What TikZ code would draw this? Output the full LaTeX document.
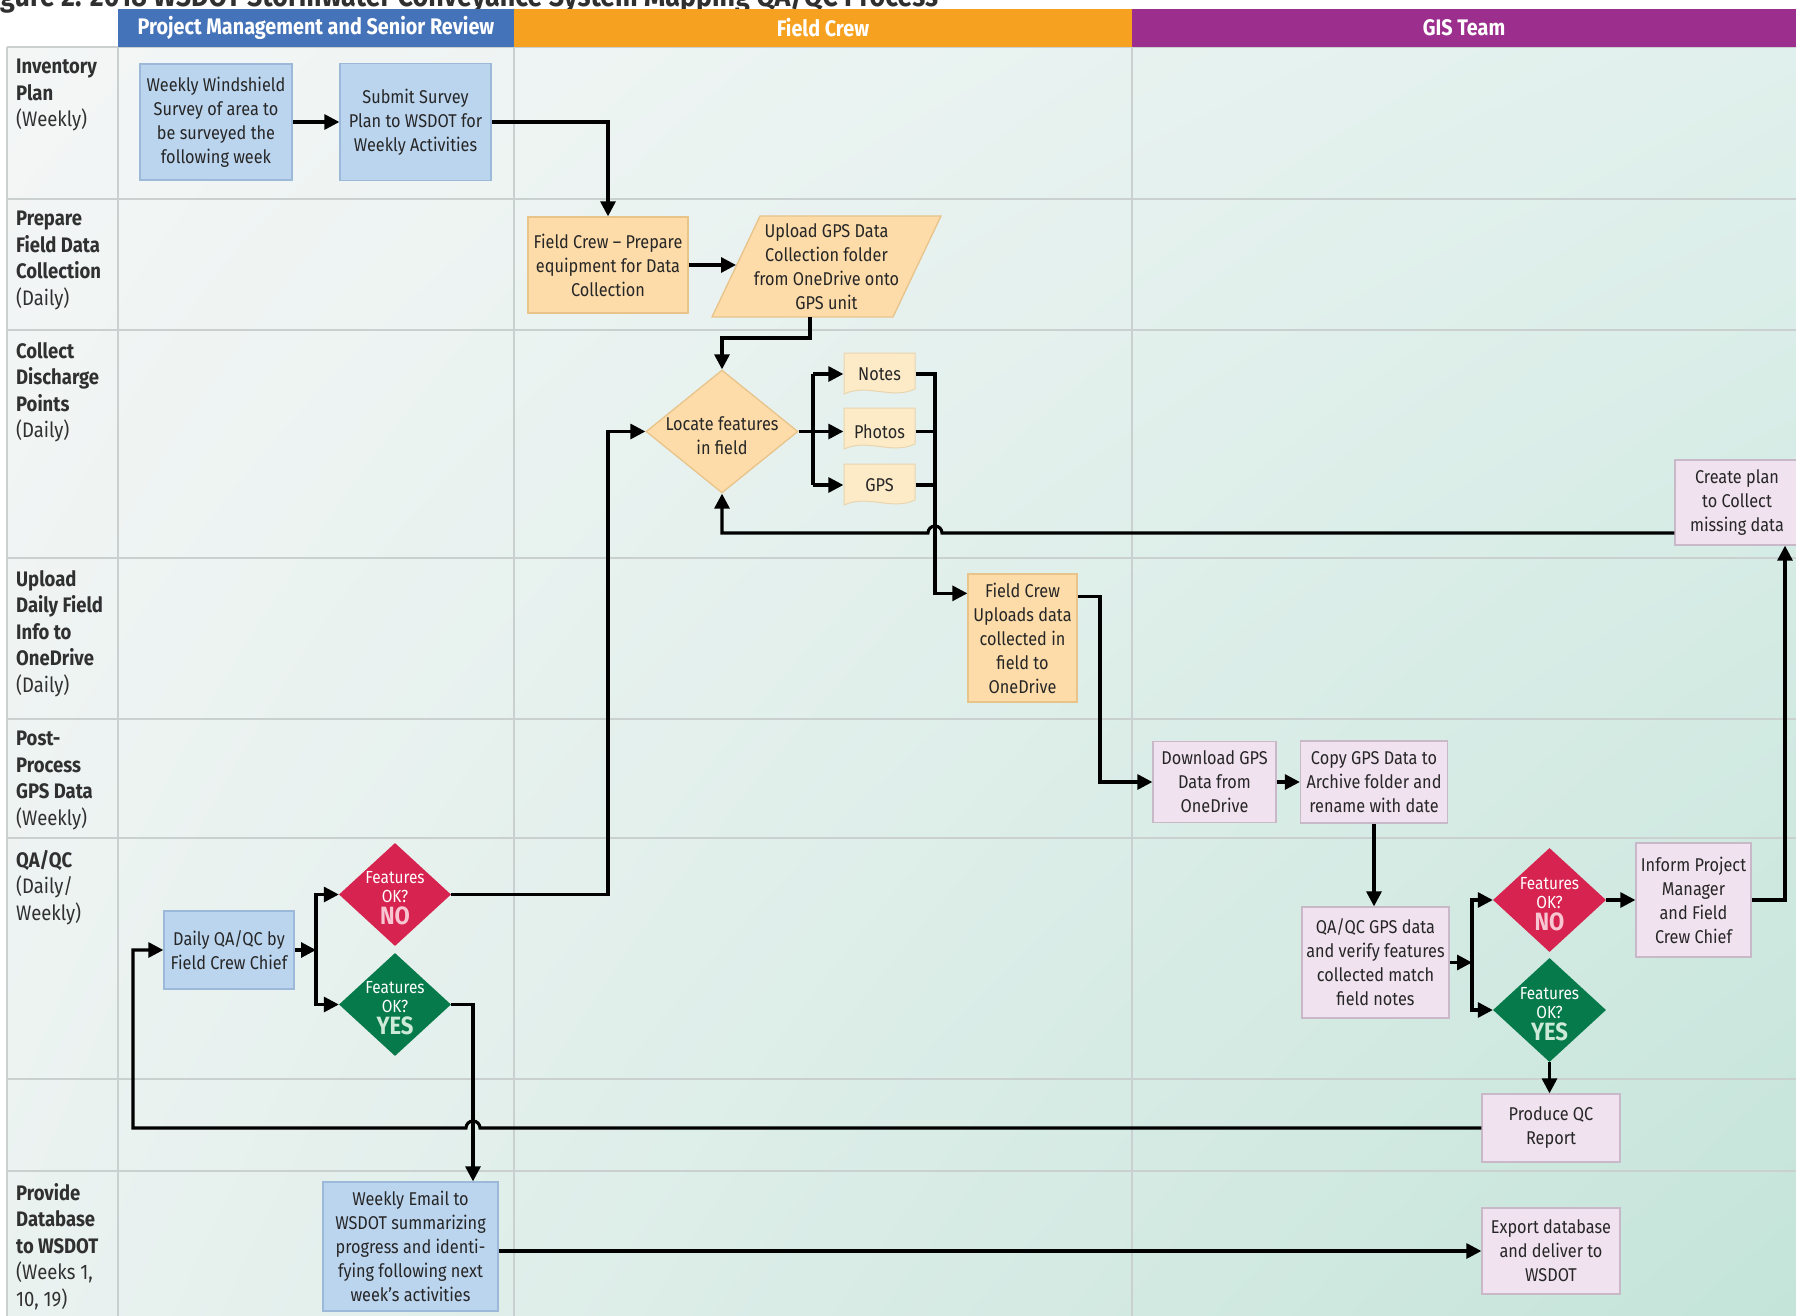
\documentclass[tikz,border=0pt]{standalone}
\usepackage{fontspec}
\setmainfont{Fira Sans}[FakeStretch=0.88]
\usetikzlibrary{arrows.meta,shapes.geometric,calc,shadings}
\definecolor{pmhead}{HTML}{4573B9}
\definecolor{fchead}{HTML}{F6A11F}
\definecolor{gishead}{HTML}{9C2F8E}
\definecolor{pmfill}{HTML}{BCD5EF}
\definecolor{pmline}{HTML}{9DB9D9}
\definecolor{fcfill}{HTML}{FDDCAA}
\definecolor{fcline}{HTML}{E8C38A}
\definecolor{docfill}{HTML}{FDEBC8}
\definecolor{docline}{HTML}{E9D4AE}
\definecolor{gisfill}{HTML}{F1E2F0}
\definecolor{gisline}{HTML}{C9B9C8}
\definecolor{redc}{HTML}{D6234F}
\definecolor{greenc}{HTML}{077A4C}
\definecolor{nocol}{HTML}{F7C6D2}
\definecolor{yescol}{HTML}{CDEAD8}
\definecolor{txtc}{HTML}{262626}
\definecolor{lblc}{HTML}{303030}
\definecolor{gridc}{HTML}{CACFCF}
\definecolor{bgA}{HTML}{F4F6F6}
\definecolor{bgB}{HTML}{E0F0EC}
\definecolor{bgC}{HTML}{EAF2F0}
\definecolor{bgD}{HTML}{C4E4D9}
\newcommand\bxf{\fontsize{18.5}{24}\selectfont}
\newcommand\lbf{\fontsize{21}{26.5}\selectfont}
\newcommand\hdf{\fontsize{22.5}{26}\selectfont}
\newcommand\dfnt{\fontsize{17.5}{19}\selectfont}
\newcommand\nolbl{{\bfseries\fontsize{25}{19}\selectfont\color{nocol}NO}}
\newcommand\yeslbl{{\bfseries\fontsize{25}{19}\selectfont\color{yescol}YES}}
\newcommand\docsh[2]{\filldraw[fill=docfill, draw=docline, line width=1pt] ({#1-35.5},{#2-21}) -- ({#1+35.5},{#2-21}) -- ({#1+35.5},{#2+15}) .. controls ({#1+12},{#2+26}) and ({#1-12},{#2+9}) .. ({#1-35.5},{#2+20}) -- cycle;}
\begin{document}
\begin{tikzpicture}[x=1pt,y=-1pt,
  bx/.style={rectangle, line width=1.3pt, inner sep=1pt, align=center, font=\bxf, text=txtc},
  pm/.style={bx, draw=pmline, fill=pmfill},
  fc/.style={bx, draw=fcline, fill=fcfill},
  gis/.style={bx, draw=gisline, fill=gisfill},
  dia/.style={diamond, inner sep=0pt, draw=none},
  dtxt/.style={align=center, text=white, font=\dfnt, inner sep=0pt},
  lbl/.style={anchor=north west, align=left, font=\lbf, text=lblc, inner sep=0pt},
  hdr/.style={inner sep=0pt, text=white, font=\hdf\bfseries},
  ln/.style={line width=3.1pt, draw=black},
  arr/.style={ln, -{Triangle[length=15pt,width=15pt]}},
  gridl/.style={draw=gridc, line width=2pt}]
\useasboundingbox (0,0) rectangle (1796,1316);
\fill[white] (0,0) rectangle (1796,1316);
\shade[upper left=bgA, upper right=bgB, lower left=bgC, lower right=bgD] (7,47) rectangle (1796,1316);
\foreach \yy in {47,199,330,558,719,838,1079,1171} \draw[gridl] (7,\yy) -- (1796,\yy);
\foreach \xx in {7,118,514,1132} \draw[gridl] (\xx,47) -- (\xx,1316);
% title (cut off at top, as in the source)
\node[anchor=base west, inner sep=0pt, text=lblc, font=\fontsize{30.5}{34}\selectfont\bfseries] (title) at (0,7) {\llap{Fi}gure 2. 2018 WSDOT Stormwater Conveyance System Mapping QA/QC Process};
% headers
\node[hdr, fill=pmhead, minimum width=396, minimum height=38] (hPM) at (316,28) {Project Management and Senior Review};
\node[hdr, fill=fchead, minimum width=618, minimum height=38] (hFC) at (823,28) {Field Crew};
\node[hdr, fill=gishead, minimum width=664, minimum height=38] (hGIS) at (1464,28) {GIS Team};
% row labels
\node[lbl] (r1) at (16,59) {\textbf{Inventory}\\\textbf{Plan}\\(Weekly)};
\node[lbl] (r2) at (16,211) {\textbf{Prepare}\\\textbf{Field Data}\\\textbf{Collection}\\(Daily)};
\node[lbl] (r3) at (16,342) {\textbf{Collect}\\\textbf{Discharge}\\\textbf{Points}\\(Daily)};
\node[lbl] (r4) at (16,570) {\textbf{Upload}\\\textbf{Daily Field}\\\textbf{Info to}\\\textbf{OneDrive}\\(Daily)};
\node[lbl] (r5) at (16,731) {\textbf{Post-}\\\textbf{Process}\\\textbf{GPS Data}\\(Weekly)};
\node[lbl] (r6) at (16,850) {\textbf{QA/QC}\\(Daily/\\Weekly)};
\node[lbl] (r8) at (16,1183) {\textbf{Provide}\\\textbf{Database}\\\textbf{to WSDOT}\\(Weeks 1,\\10, 19)};
% PM column
\node[pm, minimum width=152, minimum height=116] (W1) at (216,122) {Weekly Windshield\\Survey of area to\\be surveyed the\\following week};
\node[pm, minimum width=151, minimum height=117] (W2) at (415.5,122) {Submit Survey\\Plan to WSDOT for\\Weekly Activities};
\node[pm, minimum width=130, minimum height=78] (QA1) at (229,950) {Daily QA/QC by\\Field Crew Chief};
\node[dia, fill=redc, minimum width=112, minimum height=103] (NO1) at (395,894.5) {};
\node[dtxt] (NO1t) at (395,898) {Features\\OK?\\[3pt]\nolbl};
\node[dia, fill=greenc, minimum width=112, minimum height=103] (YES1) at (395,1004.5) {};
\node[dtxt] (YES1t) at (395,1008) {Features\\OK?\\[3pt]\yeslbl};
\node[pm, minimum width=175, minimum height=129] (EMAIL) at (410.5,1246.5) {Weekly Email to\\WSDOT summarizing\\progress and identi-\\fying following next\\week’s activities};
% Field crew column
\node[fc, minimum width=160, minimum height=96] (FCP) at (608,265) {Field Crew – Prepare\\equipment for Data\\Collection};
\filldraw[fill=fcfill, draw=fcline, line width=1.3pt] (760,216) -- (941,216) -- (893,317) -- (712,317) -- cycle;
\node[bx] (UPL) at (826.5,266.5) {Upload GPS Data\\Collection folder\\from OneDrive onto\\GPS unit};
\coordinate (UPLw) at (736,266.5);
\coordinate (UPLs) at (810,317);
\node[dia, fill=fcfill, draw=fcline, line width=1.3pt, minimum width=152, minimum height=123] (LOC) at (722,431.5) {};
\node[bx] (LOCt) at (722,436) {Locate features\\in field};
\docsh{879.5}{374}
\docsh{879.5}{429}
\docsh{879.5}{485}
\node[bx, minimum width=71, minimum height=30] (Notes) at (879.5,374) {Notes};
\node[bx, minimum width=71, minimum height=30] (Photos) at (879.5,431.5) {Photos};
\node[bx, minimum width=71, minimum height=30] (GPS) at (879.5,485) {GPS};
\node[fc, minimum width=109, minimum height=128] (FCU) at (1022.5,638) {Field Crew\\Uploads data\\collected in\\field to\\OneDrive};
% GIS column
\node[gis, minimum width=124, minimum height=85] (CREATE) at (1737,502.5) {Create plan\\to Collect\\missing data};
\node[gis, minimum width=123, minimum height=81] (DL) at (1214.5,782) {Download GPS\\Data from\\OneDrive};
\node[gis, minimum width=147, minimum height=82] (COPY) at (1374,782) {Copy GPS Data to\\Archive folder and\\rename with date};
\node[gis, minimum width=147, minimum height=111] (QA2) at (1375.5,962.5) {QA/QC GPS data\\and verify features\\collected match\\field notes};
\node[dia, fill=redc, minimum width=113, minimum height=104] (NO2) at (1549.5,900) {};
\node[dtxt] (NO2t) at (1549.5,904) {Features\\OK?\\[3pt]\nolbl};
\node[dia, fill=greenc, minimum width=113, minimum height=104] (YES2) at (1549.5,1010) {};
\node[dtxt] (YES2t) at (1549.5,1014) {Features\\OK?\\[3pt]\yeslbl};
\node[gis, minimum width=115, minimum height=114] (INFORM) at (1693.5,900) {Inform Project\\Manager\\and Field\\Crew Chief};
\node[gis, minimum width=138, minimum height=68] (QCR) at (1551,1128) {Produce QC\\Report};
\node[gis, minimum width=138, minimum height=86] (EXPORT) at (1551,1251) {Export database\\and deliver to\\WSDOT};
% helper coordinates
\coordinate (j1) at (316,950);
\coordinate (c608) at (608,0);
\coordinate (c473) at (473,0);
\coordinate (c133) at (133,0);
\coordinate (bL) at (813,0);
\coordinate (mg) at (935,0);
\coordinate (c1100) at (1100,0);
\coordinate (j2) at (1472,0);
\coordinate (c1785) at (1785,0);
\coordinate (cy533) at (0,533);
\coordinate (fcuin) at ([yshift=-20pt]FCU.north west);
\coordinate (fcuout) at ([yshift=-23pt]FCU.north east);
% connectors
\draw[arr] (W1.east) -- (W2.west);
\draw[arr] (W2.east) -| (FCP.north);
\draw[arr] (FCP.east) -- (FCP.east -| UPLw);
\draw[arr] (UPLs) -- ++(0,21) -| (LOC.north);
\draw[ln] (LOC.east) -- (LOC.east -| bL);
\draw[ln] (bL |- Notes.west) -- (bL |- GPS.west);
\draw[arr] (bL |- Notes.west) -- (Notes.west);
\draw[arr] (bL |- Photos.west) -- (Photos.west);
\draw[arr] (bL |- GPS.west) -- (GPS.west);
\draw[arr] (Notes.east) -- (Notes.east -| mg) -- (mg |- fcuin) -- (fcuin);
\draw[ln] (Photos.east) -- (Photos.east -| mg);
\draw[ln] (GPS.east) -- (GPS.east -| mg);
\draw[arr] (CREATE.west |- cy533) -- (942,533) arc[start angle=0, end angle=180, radius=7pt] -- (LOC.south |- cy533) -- (LOC.south);
\draw[arr] (fcuout) -- (fcuout -| c1100) |- (DL.west);
\draw[arr] (DL.east) -- (COPY.west);
\draw[arr] (COPY.south) -- (COPY.south |- QA2.north);
\draw[arr] (QA2.east) -- (QA2.east -| j2);
\draw[arr] (QA2.east -| j2) |- (NO2.west);
\draw[arr] (QA2.east -| j2) |- (YES2.west);
\draw[arr] (NO2.east) -- (INFORM.west);
\draw[arr] (INFORM.east) -- (INFORM.east -| c1785) -- (c1785 |- CREATE.south);
\draw[arr] (YES2.south) -- (YES2.south |- QCR.north);
\draw[arr] (QCR.west) -- (480,1128) arc[start angle=0, end angle=180, radius=7pt] -- (QCR.west -| c133) -- (c133 |- QA1.west) -- (QA1.west);
\draw[arr] (QA1.east) -- (j1);
\draw[arr] (j1) |- (NO1.west);
\draw[arr] (j1) |- (YES1.west);
\draw[arr] (NO1.east) -- (NO1.east -| c608) -- (c608 |- LOC.west) -- (LOC.west);
\draw[arr] (YES1.east) -- (YES1.east -| c473) -- (c473 |- EMAIL.north);
\draw[arr] (EXPORT.west -| EMAIL.east) -- (EXPORT.west);
\end{tikzpicture}
\end{document}
